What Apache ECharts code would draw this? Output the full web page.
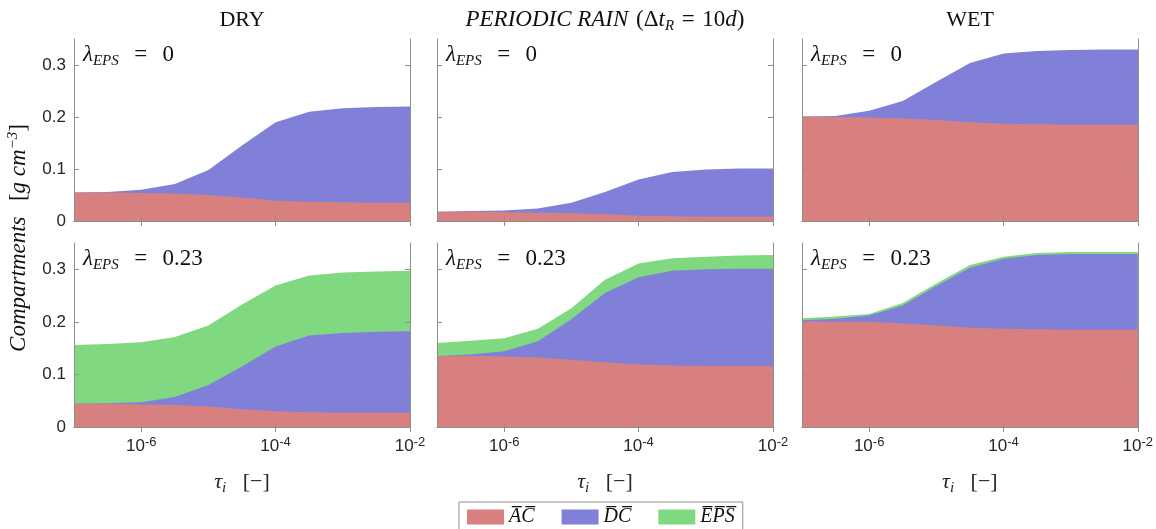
<!DOCTYPE html>
<html>
<head>
<meta charset="utf-8">
<script src="https://cdn.jsdelivr.net/npm/echarts@6/dist/echarts.min.js"></script>
<style>
  html, body { margin: 0; padding: 0; background: #fff; }
  #chart { width: 1156px; height: 529px; }
</style>
</head>
<body>
<div id="chart"></div>
<script>
// Relaxation time of each run (x axis, log scale)
const tau = [1e-7, 3.16e-7, 1e-6, 3.16e-6, 1e-5, 3.16e-5, 1e-4, 3.16e-4, 1e-3, 3.16e-3, 1e-2];

// Compartment concentrations [g cm^-3], lambda_EPS = 0
const dryAC0  = [0.055, 0.055, 0.054, 0.053, 0.050, 0.045, 0.039, 0.037, 0.036, 0.035, 0.035];
const dryDC0  = [0.000, 0.001, 0.006, 0.018, 0.048, 0.100, 0.151, 0.173, 0.181, 0.184, 0.185];
const rainAC0 = [0.018, 0.018, 0.017, 0.016, 0.015, 0.013, 0.010, 0.009, 0.008, 0.008, 0.008];
const rainDC0 = [0.000, 0.001, 0.003, 0.008, 0.020, 0.043, 0.070, 0.085, 0.091, 0.093, 0.093];
const wetAC0  = [0.201, 0.200, 0.199, 0.197, 0.194, 0.190, 0.187, 0.186, 0.185, 0.185, 0.185];
const wetDC0  = [0.000, 0.002, 0.013, 0.034, 0.074, 0.114, 0.135, 0.141, 0.144, 0.145, 0.145];

// Compartment concentrations [g cm^-3], lambda_EPS = 0.23
const dryAC1   = [0.044, 0.044, 0.043, 0.042, 0.039, 0.034, 0.030, 0.028, 0.027, 0.027, 0.027];
const dryDC1   = [0.000, 0.001, 0.004, 0.015, 0.041, 0.081, 0.123, 0.146, 0.152, 0.154, 0.155];
const dryEPS1  = [0.112, 0.113, 0.114, 0.114, 0.113, 0.118, 0.116, 0.114, 0.115, 0.115, 0.115];
const rainAC1  = [0.135, 0.135, 0.134, 0.132, 0.128, 0.123, 0.119, 0.117, 0.116, 0.116, 0.116];
const rainDC1  = [0.000, 0.003, 0.010, 0.031, 0.077, 0.132, 0.166, 0.180, 0.184, 0.185, 0.185];
const rainEPS1 = [0.025, 0.026, 0.025, 0.024, 0.021, 0.025, 0.026, 0.024, 0.024, 0.025, 0.026];
const wetAC1   = [0.201, 0.200, 0.200, 0.197, 0.193, 0.189, 0.187, 0.186, 0.185, 0.185, 0.185];
const wetDC1   = [0.002, 0.006, 0.012, 0.034, 0.075, 0.114, 0.133, 0.141, 0.144, 0.144, 0.144];
const wetEPS1  = [0.004, 0.004, 0.003, 0.005, 0.005, 0.005, 0.004, 0.004, 0.004, 0.004, 0.004];

// Axis ticks
const xTicks = [1e-6, 1e-4, 1e-2];
const yTicks = [0, 0.1, 0.2, 0.3];
const yTickLabels = ['0', '0.1', '0.2', '0.3'];

// Column titles and panel labels
const colTitles = ['DRY', 'PERIODIC RAIN', 'WET'];
const lambdaValues = ['0', '0.23'];
const compartmentNames = ['AC', 'DC', 'EPS'];

const panels = [
  { col: 0, row: 0, parts: [dryAC0, dryDC0] },
  { col: 1, row: 0, parts: [rainAC0, rainDC0] },
  { col: 2, row: 0, parts: [wetAC0, wetDC0] },
  { col: 0, row: 1, parts: [dryAC1, dryDC1, dryEPS1] },
  { col: 1, row: 1, parts: [rainAC1, rainDC1, rainEPS1] },
  { col: 2, row: 1, parts: [wetAC1, wetDC1, wetEPS1] }
];

// Layout and style
const colLeft = [74, 437, 802];
const colWidth = 336;
const rowTop = [39, 243];
const rowHeight = [182, 184];
const colors = ['rgb(216,128,128)', 'rgb(128,128,216)', 'rgb(128,216,128)'];
const boxColor = '#8f8f8f';
const labelColor = '#262626';
const serif = 'Liberation Serif';
const sans = 'Liberation Sans';

const tickStyle = { show: true, inside: true, length: 5, lineStyle: { color: boxColor, width: 1 } };
const lineStyleBox = { show: true, lineStyle: { color: boxColor, width: 1 } };

const grids = [], xBottom = [], xTop = [], yLeft = [], yRight = [], series = [];

const xRich = {
  b: { fontFamily: sans, fontSize: 17, color: labelColor },
  e: { fontFamily: sans, fontSize: 13, color: labelColor, padding: [0, 0, 7, 0] }
};
const nameRich = {
  i: { fontFamily: serif, fontStyle: 'italic', fontSize: 22, color: labelColor },
  s: { fontFamily: serif, fontStyle: 'italic', fontSize: 15, color: labelColor, padding: [12, 0, 0, 0] },
  n: { fontFamily: serif, fontSize: 22, color: labelColor }
};

panels.forEach((p, i) => {
  grids.push({ left: colLeft[p.col], top: rowTop[p.row], width: colWidth, height: rowHeight[p.row] });
  const bottomRow = p.row === 1;
  xBottom.push({
    gridIndex: i, type: 'log', logBase: 10, min: 1e-7, max: 1e-2, position: 'bottom', z: 5,
    axisLine: lineStyleBox,
    axisTick: Object.assign({ customValues: xTicks }, tickStyle),
    splitLine: { show: false },
    axisLabel: {
      show: bottomRow, customValues: xTicks, margin: 9,
      formatter: v => '{b|10}{e|' + Math.round(Math.log10(v)) + '}',
      rich: xRich
    },
    name: bottomRow ? '{i|τ}{s|i}{n|   [−]}' : '',
    nameLocation: 'middle', nameGap: 42,
    nameTextStyle: { rich: nameRich }
  });
  xTop.push({
    gridIndex: i, type: 'log', logBase: 10, min: 1e-7, max: 1e-2, position: 'top', z: 5,
    axisLine: lineStyleBox,
    axisTick: Object.assign({ customValues: xTicks }, tickStyle),
    splitLine: { show: false },
    axisLabel: { show: false }
  });
  yLeft.push({
    gridIndex: i, type: 'value', min: 0, max: 0.35, position: 'left', z: 5,
    axisLine: lineStyleBox,
    axisTick: Object.assign({ customValues: yTicks }, tickStyle),
    splitLine: { show: false },
    axisLabel: {
      show: p.col === 0, customValues: yTicks, margin: 8,
      formatter: v => yTickLabels[yTicks.indexOf(v)],
      fontFamily: sans, fontSize: 17, color: labelColor
    }
  });
  yRight.push({
    gridIndex: i, type: 'value', min: 0, max: 0.35, position: 'right', z: 5,
    axisLine: lineStyleBox,
    axisTick: Object.assign({ customValues: yTicks }, tickStyle),
    splitLine: { show: false },
    axisLabel: { show: false }
  });

  // Cumulative layer tops: AC, AC+DC, AC+DC+EPS
  const tops = [];
  p.parts.forEach((vals, k) => {
    tops.push(vals.map((v, j) => (k ? tops[k - 1][j] : 0) + v));
  });
  // Tallest layer first so each lower layer is painted over it
  for (let k = tops.length - 1; k >= 0; k--) {
    series.push({
      type: 'line', name: compartmentNames[k],
      xAxisIndex: i, yAxisIndex: i,
      data: tau.map((t, j) => [t, tops[k][j]]),
      symbol: 'none', silent: true, color: colors[k],
      lineStyle: { width: 0, opacity: 0 },
      areaStyle: { color: colors[k], opacity: 1, origin: 'start' },
      z: 2, zlevel: 0
    });
  }
});

// Titles, panel labels and the shared y-axis name
const titleRich = {
  r: { fontFamily: serif, fontSize: 22, fill: '#111' },
  R: { fontFamily: serif, fontSize: 23, fill: '#111' },
  i: { fontFamily: serif, fontStyle: 'italic', fontSize: 22, fill: '#111' },
  I: { fontFamily: serif, fontStyle: 'italic', fontSize: 23, fill: '#111' },
  s: { fontFamily: serif, fontStyle: 'italic', fontSize: 15, fill: '#111', padding: [12, 0, 0, 0] },
  p: { fontFamily: serif, fontStyle: 'italic', fontSize: 15, fill: '#111', padding: [0, 0, 12, 0] }
};
const graphics = [];
const titleTexts = [
  '{r|' + colTitles[0] + '}',
  '{I|' + colTitles[1] + '}{R|\u2004(Δ}{I|t}{s|R}{R|\u2004=\u200410}{I|d}{R|)}',
  '{r|' + colTitles[2] + '}'
];
titleTexts.forEach((t, c) => {
  graphics.push({
    type: 'text', x: colLeft[c] + colWidth / 2, y: 20,
    style: { text: t, rich: titleRich, align: 'center', verticalAlign: 'middle' }
  });
});
panels.forEach(p => {
  graphics.push({
    type: 'text', x: colLeft[p.col] + 9, y: rowTop[p.row] + 16,
    style: {
      text: '{I|λ}{s|EPS}{R|\u2004\u2004=\u2004\u2004' + lambdaValues[p.row] + '}',
      rich: titleRich, align: 'left', verticalAlign: 'middle'
    }
  });
});
graphics.push({
  type: 'text', x: 19, y: 238, rotation: Math.PI / 2,
  style: {
    text: '{I|Compartments}{R|\u2004\u2004[}{I|g cm}{p|−3}{R|]}',
    rich: titleRich, align: 'center', verticalAlign: 'middle'
  }
});

const overline = s => s.split('').map(ch => ch + '\u0305').join('');

const option = {
  animation: false,
  grid: grids,
  xAxis: xBottom.concat(xTop),
  yAxis: yLeft.concat(yRight),
  series: series,
  graphic: graphics,
  legend: {
    left: 459, top: 502,
    data: compartmentNames,
    icon: 'rect', itemWidth: 37, itemHeight: 15, itemGap: 27,
    padding: [5, 8, 10, 8],
    borderColor: boxColor, borderWidth: 1,
    selectedMode: false,
    formatter: name => overline(name),
    textStyle: { fontFamily: serif, fontStyle: 'italic', fontSize: 20, color: '#111' }
  }
};

echarts.init(document.getElementById('chart')).setOption(option);
</script>
</body>
</html>
